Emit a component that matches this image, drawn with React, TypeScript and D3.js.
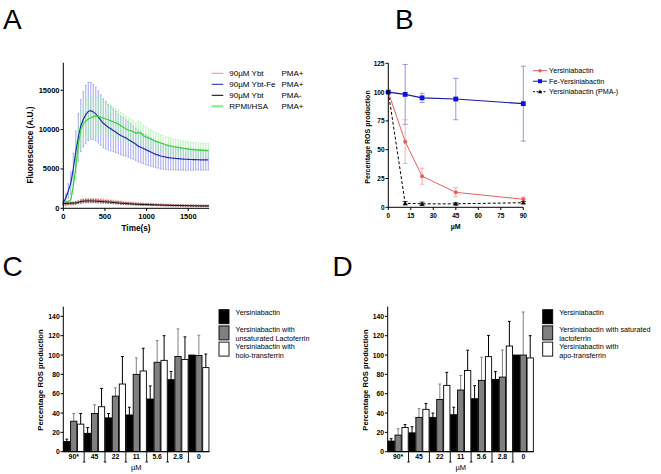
import React from 'react';
import * as d3 from 'd3';

// ---------- Panel A data ----------
const timeS = [0,30,60,90,120,150,180,210,240,270,300,330,360,390,420,450,480,510,540,570,600,630,660,690,720,750,780,810,840,870,900,930,960,990,1020,1050,1080,1110,1140,1170,1200,1230,1260,1290,1320,1350,1380,1410,1440,1470,1500,1530,1560,1590,1620,1650,1680,1710,1740];
const ybtPMAp = [400,450,500,550,600,700,800,900,950,1000,1020,1030,1030,1020,1000,980,960,940,910,880,850,820,790,760,730,700,680,660,640,620,600,580,560,540,520,510,490,480,470,460,450,440,430,420,410,400,400,390,390,380,380,370,370,360,360,360,350,350,350];
const ybtPMApErr = [150,150,160,170,180,200,220,240,250,260,260,260,250,250,240,240,230,220,210,200,200,190,180,170,170,160,160,150,150,140,140,130,130,120,120,120,110,110,110,100,100,100,100,100,90,90,90,90,90,90,80,80,80,80,80,80,80,80,80];
const ybtFe = [700,1300,2200,3200,5000,7200,9000,10500,11300,11900,12300,12400,12250,12000,11600,11200,10800,10550,10300,10100,9900,9700,9450,9250,9100,8950,8750,8550,8350,8150,7900,7750,7600,7450,7300,7150,7000,6850,6750,6650,6580,6500,6450,6400,6380,6330,6300,6270,6250,6230,6220,6200,6190,6180,6170,6160,6150,6150,6150];
const ybtFeErr = [200,500,900,1400,2000,2600,3000,3300,3500,3700,3700,3600,3500,3400,3300,3200,3100,3000,2900,2800,2700,2600,2500,2450,2400,2300,2250,2200,2100,2050,2000,1950,1900,1900,1850,1800,1750,1700,1650,1650,1600,1550,1550,1500,1500,1450,1450,1400,1400,1400,1350,1350,1350,1300,1300,1300,1300,1280,1280];
const ybtPMAm = [600,620,640,650,660,680,750,850,900,920,930,930,920,900,880,860,840,820,800,770,740,710,680,650,620,600,580,560,540,520,500,490,480,470,460,450,440,430,420,410,400,390,380,370,360,350,350,340,340,330,330,320,320,310,310,300,300,300,300];
const ybtPMAmErr = [120,120,130,130,140,150,170,190,200,210,210,210,200,200,190,190,180,170,170,160,160,150,150,140,140,130,130,120,120,120,110,110,110,100,100,100,100,90,90,90,90,90,80,80,80,80,80,80,80,70,70,70,70,70,70,70,70,70,70];
const rpmiHsa = [800,820,850,1100,2800,5200,8000,10000,10700,11100,11350,11500,11650,11750,11700,11600,11450,11350,11250,11100,11000,10850,10700,10500,10300,10100,9950,9850,9750,9500,9650,9550,9250,9050,8950,8800,8650,8500,8400,8300,8200,8080,8000,7920,7850,7800,7730,7680,7630,7580,7530,7480,7450,7420,7400,7380,7350,7330,7320];
const rpmiHsaErr = [150,150,200,400,1000,1600,2100,2400,2500,2600,2600,2550,2500,2450,2400,2300,2200,2100,2000,1950,1900,1850,1800,1700,1650,1600,1550,1500,1450,1400,1400,1350,1300,1300,1250,1200,1150,1100,1100,1050,1050,1000,1000,1000,950,950,950,950,900,900,900,900,900,900,900,900,900,900,900];
const aYTicks = [0,5000,10000,15000];
const aXTicks = [0,500,1000,1500];

// ---------- Panel B data ----------
const concB = [0,11.25,22.5,45,90];
const ybtB = [100,57,27,13,7];
const ybtBErr = [0,19,7,4,2];
const feYbtB = [100,98,95,94,90];
const feYbtBErr = [0,26,4,18,32.5];
const ybtPmaMinusB = [100,3.5,3,3,4];
const ybtPmaMinusBErr = [0,1.5,1.5,1,1];
const bXTicks = [0,15,30,45,60,75,90];
const bYTicks = [0,25,50,75,100,125];

// ---------- Panel C / D data ----------
const doseGroups = ['90*','45','22','11','5.6','2.8','0'];
const barYTicks = [0,20,40,60,80,100,120,140];
const ybtC = [10.5,19,35,38,54.5,74.5,100];
const ybtCErr = [2.5,6,4.5,8,13.5,8.5,0];
const lactoC = [31.5,39.5,57.5,80,92.5,98.5,99.5];
const lactoCErr = [8,9,8.5,17,22.5,28.5,21];
const holoC = [28.5,46.5,70,83.5,94.5,95.3,87];
const holoCErr = [11,19,28.5,23.5,25.5,23.5,14];
const ybtD = [11,19.5,35.5,38.3,54.8,74.8,100];
const ybtDErr = [2.5,6.3,4.5,7.7,13.5,8,0];
const satLactoD = [17.2,35.5,54,63.8,73.8,77.2,100];
const satLactoDErr = [6.5,9,16,15,24,28,44.5];
const apoD = [25,43.8,68.6,84,98.3,109.3,97];
const apoDErr = [3,6,13.5,21,22,25.5,23];

const FONT = "'Liberation Sans', Arial, Helvetica, sans-serif";

function PanelA() {
  const x = d3.scaleLinear().domain([0, 1750]).range([63.3, 209.1]);
  const y = d3.scaleLinear().domain([0, 18500]).range([208.3, 62.7]);
  const series = [
    { v: ybtFe, e: ybtFeErr, line: '#1f2fa8', err: '#7d7df0', lw: 1.2 },
    { v: rpmiHsa, e: rpmiHsaErr, line: '#35d335', err: '#9af29a', lw: 1.2 },
    { v: ybtPMAp, e: ybtPMApErr, line: '#e07070', err: '#f0a0a0', lw: 1 },
    { v: ybtPMAm, e: ybtPMAmErr, line: '#111111', err: '#444444', lw: 1 },
  ];
  const line = (vals: number[]) =>
    d3.line<number>().x((_, i) => x(timeS[i])).y((d) => y(d))(vals) || '';
  const legend = [
    { a: '90\u00b5M Ybt', b: 'PMA+', c: '#f08f8f', w: 1 },
    { a: '90\u00b5M Ybt-Fe', b: 'PMA+', c: '#1f2a9a', w: 1 },
    { a: '90\u00b5M Ybt', b: 'PMA-', c: '#000', w: 1 },
    { a: 'RPMI/HSA', b: 'PMA+', c: '#7ef07e', w: 2 },
  ];
  return (
    <g>
      {series.map((s, k) => (
        <g key={'e' + k} stroke={s.err} strokeWidth={0.8} opacity={0.85}>
          {s.v.map((d, i) => (
            <g key={i}>
              <line x1={x(timeS[i])} x2={x(timeS[i])} y1={y(d - s.e[i])} y2={y(d + s.e[i])} />
              <line x1={x(timeS[i]) - 0.8} x2={x(timeS[i]) + 0.8} y1={y(d + s.e[i])} y2={y(d + s.e[i])} />
              <line x1={x(timeS[i]) - 0.8} x2={x(timeS[i]) + 0.8} y1={y(d - s.e[i])} y2={y(d - s.e[i])} />
            </g>
          ))}
        </g>
      ))}
      {series.map((s, k) => (
        <path key={'l' + k} d={line(s.v)} fill="none" stroke={s.line} strokeWidth={s.lw} />
      ))}
      {/* axes */}
      <line x1={63.3} x2={63.3} y1={62.7} y2={208.3} stroke="#000" />
      <line x1={63.3} x2={209.1} y1={208.3} y2={208.3} stroke="#000" />
      {aYTicks.map((t) => (
        <g key={t}>
          <line x1={60.5} x2={63.3} y1={y(t)} y2={y(t)} stroke="#000" />
          <text x={59.5} y={y(t)} textAnchor="end" dominantBaseline="central" fontSize={7.5} fontWeight="bold" fontFamily={FONT}>{t}</text>
        </g>
      ))}
      {aXTicks.map((t) => (
        <g key={t}>
          <line x1={x(t)} x2={x(t)} y1={208.3} y2={211} stroke="#000" />
          <text x={x(t)} y={216.5} textAnchor="middle" dominantBaseline="central" fontSize={7.5} fontWeight="bold" fontFamily={FONT}>{t}</text>
        </g>
      ))}
      <text x={136} y={228.5} textAnchor="middle" dominantBaseline="central" fontSize={8.2} fontWeight="bold" fontFamily={FONT}>Time(s)</text>
      <text transform="translate(30.5,145) rotate(-90)" textAnchor="middle" dominantBaseline="central" fontSize={8.2} fontWeight="bold" fontFamily={FONT}>Fluorescence (A.U.)</text>
      {legend.map((l, i) => (
        <g key={i}>
          <line x1={211.7} x2={223.3} y1={73.3 + i * 11} y2={73.3 + i * 11} stroke={l.c} strokeWidth={l.w} />
          <text x={229.3} y={73.3 + i * 11} dominantBaseline="central" fontSize={8} fontFamily={FONT}>{l.a}</text>
          <text x={281.5} y={73.3 + i * 11} dominantBaseline="central" fontSize={8} fontFamily={FONT}>{l.b}</text>
        </g>
      ))}
    </g>
  );
}

function PanelB() {
  const x = d3.scaleLinear().domain([0, 90]).range([388.3, 523.3]);
  const y = d3.scaleLinear().domain([0, 125]).range([207.3, 63.3]);
  const line = (vals: number[]) =>
    d3.line<number>().x((_, i) => x(concB[i])).y((d) => y(d))(vals) || '';
  const tri = (cx: number, cy: number, r: number) =>
    `M${cx},${cy - r}L${cx + r * 0.95},${cy + r * 0.7}L${cx - r * 0.95},${cy + r * 0.7}Z`;
  const errs = (vals: number[], e: number[], color: string) =>
    vals.map((d, i) =>
      e[i] > 0 ? (
        <g key={i} stroke={color} strokeWidth={0.9}>
          <line x1={x(concB[i])} x2={x(concB[i])} y1={y(d - e[i])} y2={y(d + e[i])} />
          <line x1={x(concB[i]) - 2.5} x2={x(concB[i]) + 2.5} y1={y(d + e[i])} y2={y(d + e[i])} />
          <line x1={x(concB[i]) - 2.5} x2={x(concB[i]) + 2.5} y1={y(d - e[i])} y2={y(d - e[i])} />
        </g>
      ) : null
    );
  return (
    <g>
      {errs(feYbtB, feYbtBErr, '#8a8ad8')}
      {errs(ybtB, ybtBErr, '#f0a8a8')}
      {errs(ybtPmaMinusB, ybtPmaMinusBErr, '#333')}
      <path d={line(ybtPmaMinusB)} fill="none" stroke="#000" strokeWidth={1} strokeDasharray="3,2" />
      <path d={line(ybtB)} fill="none" stroke="#e66060" strokeWidth={1} />
      <path d={line(feYbtB)} fill="none" stroke="#1a1aa0" strokeWidth={1.1} />
      {ybtB.map((d, i) => <circle key={i} cx={x(concB[i])} cy={y(d)} r={2} fill="#e66060" />)}
      {feYbtB.map((d, i) => <rect key={i} x={x(concB[i]) - 2.4} y={y(d) - 2.4} width={4.8} height={4.8} fill="#1010e0" />)}
      {ybtPmaMinusB.map((d, i) => <path key={i} d={tri(x(concB[i]), y(d), 2.4)} fill="#000" />)}
      <line x1={388.3} x2={388.3} y1={63.3} y2={207.3} stroke="#000" />
      <line x1={388.3} x2={523.3} y1={207.3} y2={207.3} stroke="#000" />
      {bYTicks.map((t) => (
        <g key={t}>
          <line x1={385.5} x2={388.3} y1={y(t)} y2={y(t)} stroke="#000" />
          <text x={384.5} y={y(t)} textAnchor="end" dominantBaseline="central" fontSize={6.5} fontWeight="bold" fontFamily={FONT}>{t}</text>
        </g>
      ))}
      {bXTicks.map((t) => (
        <g key={t}>
          <line x1={x(t)} x2={x(t)} y1={207.3} y2={210} stroke="#000" />
          <text x={x(t)} y={215} textAnchor="middle" dominantBaseline="central" fontSize={6.5} fontWeight="bold" fontFamily={FONT}>{t}</text>
        </g>
      ))}
      <text x={455.7} y={226.7} textAnchor="middle" dominantBaseline="central" fontSize={7} fontWeight="bold" fontFamily={FONT}>{'\u00b5M'}</text>
      <text transform="translate(367,137) rotate(-90)" textAnchor="middle" dominantBaseline="central" fontSize={7} fontWeight="bold" fontFamily={FONT}>Percentage ROS production</text>
      {[
        { t: 'Yersiniabactin', c: '#e66060', m: 'c', dash: '' },
        { t: 'Fe-Yersiniabactin', c: '#1a1aa0', m: 's', dash: '' },
        { t: 'Yersiniabactin (PMA-)', c: '#000', m: 't', dash: '2,1.5' },
      ].map((l, i) => {
        const cy = 70.7 + i * 10.5;
        return (
          <g key={i}>
            <line x1={533} x2={547} y1={cy} y2={cy} stroke={l.c} strokeDasharray={l.dash} />
            {l.m === 'c' && <circle cx={540} cy={cy} r={1.8} fill={l.c} />}
            {l.m === 's' && <rect x={538} y={cy - 2} width={4} height={4} fill="#1010e0" />}
            {l.m === 't' && <path d={tri(540, cy, 2.2)} fill="#000" />}
            <text x={549} y={cy} dominantBaseline="central" fontSize={7.2} fontFamily={FONT}>{l.t}</text>
          </g>
        );
      })}
    </g>
  );
}

function BarPanel(props: {
  x0: number; x1: number; series: { v: number[]; e: number[]; fill: string; ec: string }[];
  legend: string[][]; legX: number; titleX: number;
}) {
  const { x0, x1, series, legend, legX, titleX } = props;
  const y = d3.scaleLinear().domain([0, 150]).range([451.7, 306.7]);
  const gx = d3.scaleBand<string>().domain(doseGroups).range([x0, x1]).padding(0);
  const sx = d3.scaleBand<string>().domain(['a', 'b', 'c']).range([0, gx.bandwidth()]).paddingInner(0.1).paddingOuter(0.05);
  const keys = ['a', 'b', 'c'];
  const bw = sx.bandwidth();
  return (
    <g>
      {doseGroups.map((g, gi) => (
        <g key={g}>
          {series.map((s, si) => {
            const bx = (gx(g) || 0) + (sx(keys[si]) || 0);
            const v = s.v[gi];
            const e = s.e[gi];
            const cx = bx + bw / 2;
            return (
              <g key={si}>
                {e > 0 && (
                  <g stroke={s.ec} strokeWidth={1}>
                    <line x1={cx} x2={cx} y1={y(v)} y2={y(v + e)} />
                    <line x1={cx - 1.4} x2={cx + 1.4} y1={y(v + e)} y2={y(v + e)} />
                  </g>
                )}
                <rect x={bx} y={y(v)} width={bw} height={y(0) - y(v)} fill={s.fill} stroke="#000" strokeWidth={0.9} />
              </g>
            );
          })}
          <text x={(gx(g) || 0) + gx.bandwidth() / 2} y={456.8} textAnchor="middle" dominantBaseline="central" fontSize={6.8} fontWeight="bold" fontFamily={FONT}>{g}</text>
          {gi > 0 && (
            <g stroke="#000" strokeWidth={0.9}>
              <line x1={gx(g) || 0} x2={gx(g) || 0} y1={451.7} y2={462} />
              <line x1={(gx(g) || 0) - 1.3} x2={(gx(g) || 0) + 1.3} y1={462} y2={462} />
            </g>
          )}
        </g>
      ))}
      <line x1={x0} x2={x0} y1={306.7} y2={451.7} stroke="#000" />
      <line x1={x0} x2={x1} y1={451.7} y2={451.7} stroke="#000" />
      {barYTicks.map((t) => (
        <g key={t}>
          <line x1={x0 - 2.8} x2={x0} y1={y(t)} y2={y(t)} stroke="#000" />
          <text x={x0 - 3.6} y={y(t)} textAnchor="end" dominantBaseline="central" fontSize={6.8} fontWeight="bold" fontFamily={FONT}>{t}</text>
        </g>
      ))}
      <text x={(x0 + x1) / 2} y={467.8} textAnchor="middle" dominantBaseline="central" fontSize={7.5} fontFamily={FONT}>{'\u00b5M'}</text>
      <text transform={`translate(${titleX},380) rotate(-90)`} textAnchor="middle" dominantBaseline="central" fontSize={7.6} fontWeight="bold" fontFamily={FONT}>Percentage ROS production</text>
      {series.map((s, i) => (
        <rect key={i} x={legX} y={309.7 + i * 16.2} width={10} height={14} fill={s.fill} stroke="#000" strokeWidth={0.9} />
      ))}
      {legend.map((lines, i) =>
        lines.map((t, j) => (
          <text key={i + '-' + j} x={legX + 16.5} y={(i === 0 ? 312.7 : i === 1 ? 329.3 : 346.5) + j * 9.4} dominantBaseline="central" fontSize={7.2} fontFamily={FONT}>{t}</text>
        ))
      )}
    </g>
  );
}

export default function App() {
  const seriesC = [
    { v: ybtC, e: ybtCErr, fill: '#000', ec: '#000' },
    { v: lactoC, e: lactoCErr, fill: '#808080', ec: '#808080' },
    { v: holoC, e: holoCErr, fill: '#fff', ec: '#000' },
  ];
  const seriesD = [
    { v: ybtD, e: ybtDErr, fill: '#000', ec: '#000' },
    { v: satLactoD, e: satLactoDErr, fill: '#808080', ec: '#808080' },
    { v: apoD, e: apoDErr, fill: '#fff', ec: '#000' },
  ];
  return (
    <svg width={661} height={474} style={{ position: 'absolute', left: 0, top: 0, background: '#fff' }}>
      <rect width={661} height={474} fill="#fff" />
      <text x={3} y={29.3} fontSize={28} fontFamily={FONT}>A</text>
      <text x={395} y={28.5} fontSize={28} fontFamily={FONT}>B</text>
      <text x={2.5} y={275.5} fontSize={28} fontFamily={FONT}>C</text>
      <text x={332.5} y={275.5} fontSize={28} fontFamily={FONT}>D</text>
      <PanelA />
      <PanelB />
      <BarPanel x0={63.3} x1={209.3} series={seriesC} legX={219}
        legend={[['Yersiniabactin'], ['Yersiniabactin with', 'unsaturated Lactoferrin'], ['Yersiniabactin with', 'holo-transferrin']]} titleX={40} />
      <BarPanel x0={387.7} x1={533.7} series={seriesD} legX={542.7}
        legend={[['Yersiniabactin'], ['Yersiniabactin with saturated', 'lactoferrin'], ['Yersiniabactin with', 'apo-transferrin']]} titleX={365} />
    </svg>
  );
}
